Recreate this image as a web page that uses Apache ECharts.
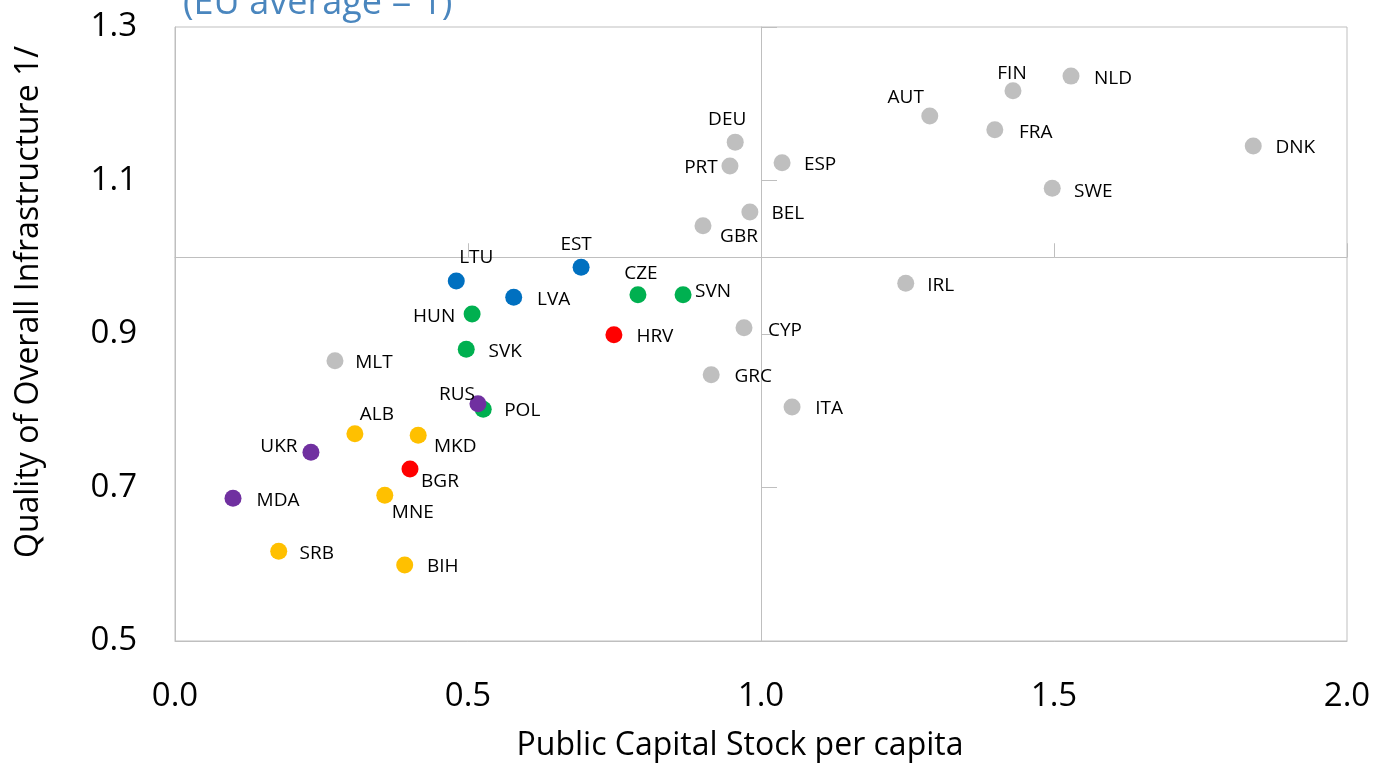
<!DOCTYPE html>
<html>
<head>
<meta charset="utf-8">
<script src="https://cdn.jsdelivr.net/npm/echarts@6/dist/echarts.min.js"></script>
<style>html,body{margin:0;padding:0;background:#fff}#c{width:1376px;height:765px}</style>
</head>
<body>
<div id="c"></div>
<script>
// ---- data ----
const countries = ['DNK','NLD','FIN','AUT','FRA','SWE','IRL','DEU','PRT','ESP','BEL','GBR','CYP','GRC','ITA','MLT',
  'EST','LTU','LVA','CZE','SVN','HUN','SVK','POL','HRV','BGR','RUS','UKR','MDA','ALB','MKD','MNE','SRB','BIH'];
const capitalStock = [1.840,1.529,1.430,1.288,1.399,1.497,1.247,0.956,0.947,1.036,0.981,0.901,0.971,0.915,1.053,0.273,
  0.693,0.480,0.578,0.790,0.867,0.507,0.497,0.526,0.749,0.401,0.517,0.232,0.099,0.307,0.415,0.358,0.177,0.392];
const infraQuality = [1.145,1.236,1.217,1.184,1.166,1.090,0.966,1.150,1.119,1.123,1.059,1.041,0.908,0.847,0.805,0.865,
  0.987,0.969,0.948,0.951,0.951,0.926,0.880,0.802,0.899,0.724,0.809,0.746,0.686,0.770,0.768,0.690,0.617,0.599];
const groups = ['grey','grey','grey','grey','grey','grey','grey','grey','grey','grey','grey','grey','grey','grey','grey','grey',
  'blue','blue','blue','green','green','green','green','green','red','red','purple','purple','purple','yellow','yellow','yellow','yellow','yellow'];
const groupOrder = ['grey','blue','yellow','red','green','purple'];
const xTicks = [0, 0.5, 1.0, 1.5, 2.0];
const yTicks = [0.5, 0.7, 0.9, 1.1, 1.3];
const reference = 1; // EU average

// ---- styles ----
const groupColors = {grey:'#BFBFBF', blue:'#0070C0', green:'#00B050', red:'#FF0000', purple:'#7030A0', yellow:'#FFC000'};
const labelOffsets = {
  DNK:[42,2], NLD:[42,2], FIN:[-1,-17], AUT:[-24,-18], FRA:[41,3], SWE:[41,3], IRL:[35,2], DEU:[-8,-23],
  PRT:[-29,2], ESP:[38,2], BEL:[38,2], GBR:[36,11], CYP:[41,3], GRC:[42,2], ITA:[37,2], MLT:[39,2],
  EST:[-5,-23], LTU:[20,-23], LVA:[40,2], CZE:[3,-21], SVN:[30,-3], HUN:[-38,3], SVK:[39,2], POL:[39,1],
  HRV:[41,2], BGR:[30,13], RUS:[-21,-9], UKR:[-32,-6], MDA:[45,2], ALB:[22,-19], MKD:[37,11], MNE:[28,17],
  SRB:[38,2], BIH:[38,2]
};
const FONT = "'Open Sans', 'Noto Sans', sans-serif";
const lineGrey = '#BFBFBF';

const series = groupOrder.map(g => ({
  type: 'scatter',
  name: g,
  xAxisIndex: 0, yAxisIndex: 0,
  symbolSize: 17,
  itemStyle: {color: groupColors[g], opacity: 1},
  label: {show: true, position: 'inside', color: '#000', fontSize: 19, fontFamily: FONT,
          formatter: p => p.data.name},
  z: 5,
  data: countries.map((c, i) => ({c, i})).filter(o => groups[o.i] === g).map(o => ({
    name: o.c,
    value: [capitalStock[o.i], infraQuality[o.i]],
    label: {offset: labelOffsets[o.c]}
  }))
}));

const chart = echarts.init(document.getElementById('c'), null, {renderer: 'canvas'});
const gridTop = 27, gridBottom = 124, gridLeft = 175, gridRight = 29;
const plotH = 765 - gridTop - gridBottom, plotW = 1376 - gridLeft - gridRight;
const yMin = 0.5, yMax = 1.3, xMin = 0, xMax = 2;

chart.setOption({
  animation: false,
  textStyle: {fontFamily: FONT},
  title: {
    text: '(EU average = 1)', left: 178, top: -19,
    textStyle: {color: '#4A86BE', fontSize: 36, fontWeight: 'normal', fontFamily: FONT}
  },
  grid: {left: gridLeft, right: gridRight, top: gridTop, bottom: gridBottom, show: true,
         borderColor: lineGrey, borderWidth: 1, containLabel: false, outerBoundsMode: 'none'},
  xAxis: [{
    type: 'value', min: xMin, max: xMax, position: 'bottom',
    name: 'Public Capital Stock per capita', nameLocation: 'middle', nameGap: 89,
    nameTextStyle: {fontSize: 32, color: '#000', fontFamily: FONT, padding: [0, 42, 0, 0]},
    axisLine: {show: true, lineStyle: {color: lineGrey}},
    axisTick: {show: false},
    splitLine: {show: false},
    axisLabel: {customValues: xTicks, fontSize: 33, color: '#000', margin: 39, fontFamily: FONT,
                formatter: v => v.toFixed(1)}
  }, {
    type: 'value', min: xMin, max: xMax, position: 'top',
    offset: -((yMax - reference) / (yMax - yMin)) * plotH,
    axisLine: {show: true, lineStyle: {color: lineGrey}},
    axisTick: {show: true, customValues: xTicks, length: 14, lineStyle: {color: lineGrey}},
    axisLabel: {show: false}, splitLine: {show: false}
  }],
  yAxis: [{
    type: 'value', min: yMin, max: yMax, position: 'left',
    name: 'Quality of Overall Infrastructure 1/', nameLocation: 'middle', nameGap: 130, nameRotate: 90,
    nameTextStyle: {fontSize: 32, color: '#000', fontFamily: FONT, padding: [0, 0, 0, 64]},
    axisLine: {show: true, lineStyle: {color: lineGrey}},
    axisTick: {show: false},
    splitLine: {show: false},
    axisLabel: {customValues: yTicks, fontSize: 33, color: '#000', margin: 38, fontFamily: FONT,
                formatter: v => v.toFixed(1)}
  }, {
    type: 'value', min: yMin, max: yMax, position: 'right',
    offset: -((xMax - reference) / (xMax - xMin)) * plotW,
    axisLine: {show: true, lineStyle: {color: lineGrey}},
    axisTick: {show: true, customValues: yTicks, length: 16, lineStyle: {color: lineGrey}},
    axisLabel: {show: false}, splitLine: {show: false}
  }],
  series: series
});
</script>
</body>
</html>
